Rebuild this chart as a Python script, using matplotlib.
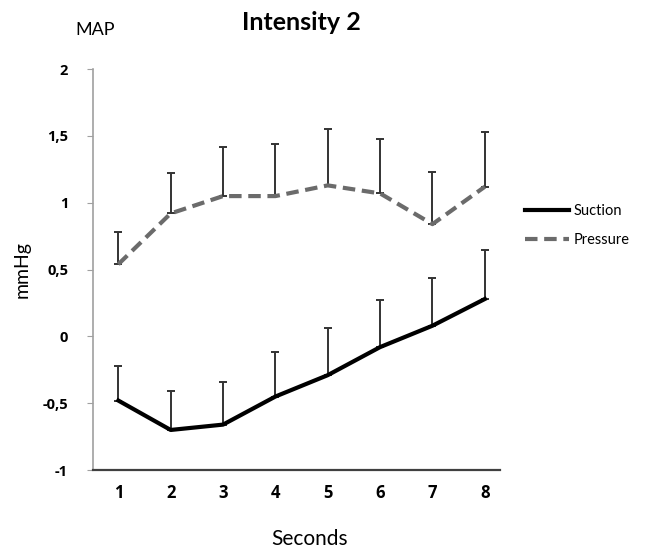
import numpy as np
import matplotlib
matplotlib.use('Agg')
import matplotlib.pyplot as plt
import matplotlib.transforms as mtransforms

# Values (mmHg)
seconds = [1, 2, 3, 4, 5, 6, 7, 8]
suction = [-0.48, -0.70, -0.66, -0.45, -0.29, -0.08, 0.08, 0.28]
suction_top = [-0.22, -0.41, -0.34, -0.12, 0.06, 0.27, 0.44, 0.65]
pressure = [0.54, 0.92, 1.05, 1.05, 1.13, 1.07, 0.84, 1.12]
pressure_top = [0.78, 1.22, 1.42, 1.44, 1.55, 1.48, 1.23, 1.53]
y_ticks = [-1, -0.5, 0, 0.5, 1, 1.5, 2]
y_labels = ['-1', '-0,5', '0', '0,5', '1', '1,5', '2']

suction_err = np.array(suction_top) - np.array(suction)
pressure_err = np.array(pressure_top) - np.array(pressure)

fig = plt.figure(figsize=(6.46, 5.53), dpi=100)
ax = fig.add_axes([0.144, 0.150, 0.630, 0.725])

# upper error bars only
ax.errorbar(seconds, suction, yerr=[np.zeros(8), suction_err], fmt='none',
            ecolor='#333333', elinewidth=1.4, capsize=3, capthick=1.4, zorder=2)
ax.errorbar(seconds, pressure, yerr=[np.zeros(8), pressure_err], fmt='none',
            ecolor='#333333', elinewidth=1.4, capsize=3, capthick=1.4, zorder=2)

ax.plot(seconds, suction, color='black', lw=3, label='Suction', zorder=3)
ax.plot(seconds, pressure, color='#6b6b6b', lw=3, ls=(0, (3, 1.6)), label='Pressure', zorder=3)

ax.set_ylim(-1, 2)
ax.set_xlim(0.517, 8.29)
ax.set_yticks(y_ticks)
ax.set_yticklabels(y_labels, fontsize=10.5, fontweight='bold', family='Open Sans')
ax.set_xticks(seconds)
ax.set_xticklabels([str(s) for s in seconds], fontsize=12, fontweight='bold', family='Open Sans')

# x tick labels sit a little right of the points in the reference
offset = mtransforms.ScaledTranslation(5 / 100, 0, fig.dpi_scale_trans)
for lab in ax.get_xticklabels():
    lab.set_transform(lab.get_transform() + offset)

for s in ['top', 'right']:
    ax.spines[s].set_visible(False)
ax.spines['left'].set_color('#a0a0a0')
ax.spines['left'].set_linewidth(1.2)
ax.spines['bottom'].set_color('#404040')
ax.spines['bottom'].set_linewidth(1.6)
ax.tick_params(axis='y', direction='out', length=4, color='#a0a0a0', pad=14)
ax.tick_params(axis='x', length=0, pad=10)

fig.text(22 / 646, 1 - 270 / 553, 'mmHg', fontsize=14, family='Lato', rotation=90,
         ha='center', va='center')
fig.text(310 / 646, 1 - 539 / 553, 'Seconds', fontsize=15, family='Lato',
         ha='center', va='center')
fig.text(95 / 646, 1 - 30 / 553, 'MAP', fontsize=13, family='Lato', ha='center', va='center')
fig.text(301 / 646, 1 - 22 / 553, 'Intensity 2', fontsize=18, fontweight='bold', family='Lato',
         ha='center', va='center')

ax.legend(loc='center left', bbox_to_anchor=(1.03, 0.61), frameon=False,
          handlelength=3.0, handletextpad=0.3, labelspacing=1.0,
          prop={'family': 'Lato', 'size': 10.5})

fig.savefig('out.png', dpi=100)
